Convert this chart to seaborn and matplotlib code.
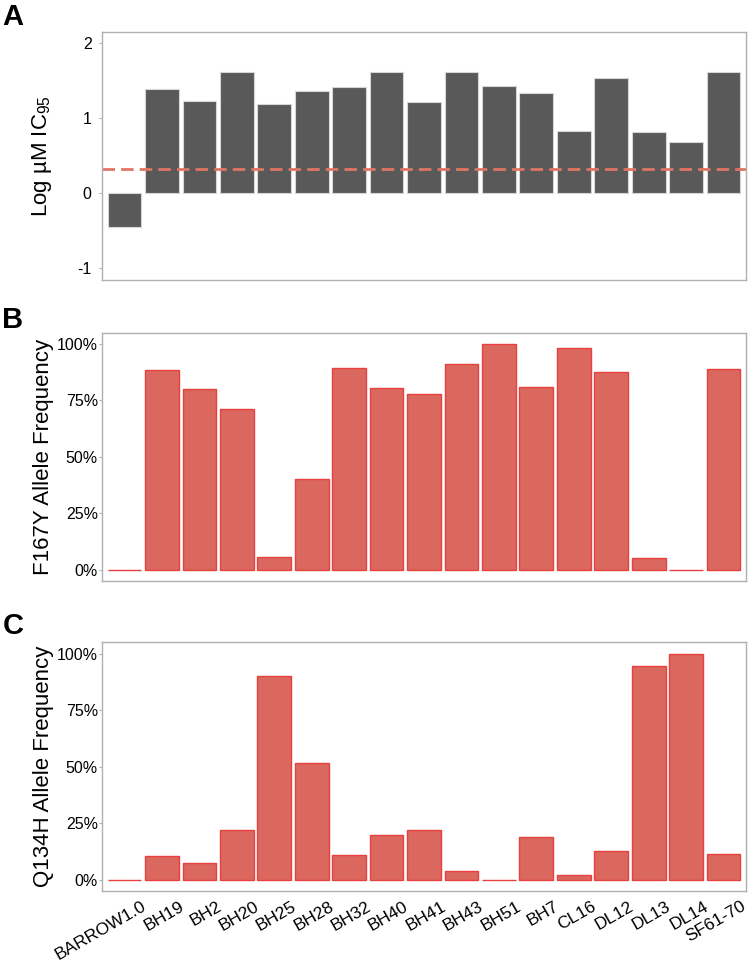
import matplotlib
matplotlib.use("Agg")
import matplotlib.pyplot as plt
import matplotlib.transforms as mtransforms
from matplotlib.ticker import PercentFormatter
import seaborn as sns

# strains on the x axis (same order in all three panels)
strains = ["BARROW1.0", "BH19", "BH2", "BH20", "BH25", "BH28", "BH32", "BH40",
           "BH41", "BH43", "BH51", "BH7", "CL16", "DL12", "DL13", "DL14", "SF61-70"]

# A: log uM IC95
log_ic95 = [-0.45, 1.39, 1.23, 1.61, 1.19, 1.36, 1.42, 1.61,
            1.21, 1.61, 1.435, 1.33, 0.83, 1.54, 0.82, 0.68, 1.61]
ic95_cutoff = 0.32

# B: F167Y allele frequency
f167y_freq = [0.0, 0.885, 0.80, 0.713, 0.057, 0.403, 0.894, 0.804,
              0.779, 0.912, 1.0, 0.81, 0.982, 0.876, 0.054, 0.0, 0.889]

# C: Q134H allele frequency
q134h_freq = [0.0, 0.107, 0.072, 0.22, 0.902, 0.518, 0.109, 0.197,
              0.219, 0.038, 0.0, 0.191, 0.02, 0.126, 0.946, 1.0, 0.115]

sns.set_style("white")
plt.rcParams["font.family"] = ["Liberation Sans", "DejaVu Sans"]
plt.rcParams["mathtext.default"] = "regular"
plt.rcParams["axes.unicode_minus"] = False
plt.rcParams["text.color"] = "black"
plt.rcParams["axes.labelcolor"] = "black"
plt.rcParams["xtick.color"] = "black"
plt.rcParams["ytick.color"] = "black"

GREY_BAR = "#595959"
RED_FILL = "#da685e"
RED_EDGE = "#e8403f"
SPINE = "#b0b0b0"

fig = plt.figure(figsize=(7.5, 9.64), dpi=100)
ax_a = fig.add_axes([0.136, 0.7095, 0.8587, 0.2573])
ax_b = fig.add_axes([0.136, 0.3973, 0.8587, 0.2576])
ax_c = fig.add_axes([0.136, 0.0757, 0.8587, 0.2580])


def style(ax, ypad):
    for s in ax.spines.values():
        s.set_color(SPINE)
        s.set_linewidth(1.0)
    ax.set_xlim(-0.6, 16.6)
    ax.set_xlabel("")
    ax.tick_params(axis="y", left=True, length=2.5, width=0.8, color=SPINE,
                   labelsize=11.5, pad=ypad, labelcolor="black")
    ax.yaxis.set_label_coords(-0.0745, 0.5)


# ? Painel A
sns.barplot(x=strains, y=log_ic95, ax=ax_a, color=GREY_BAR, saturation=1,
            edgecolor="#d6d6d6", linewidth=0.8, width=0.9, errorbar=None)
ax_a.axhline(ic95_cutoff, color="#e07565", lw=2, ls=(0, (4.5, 2.2)))
ax_a.set_ylim(-1.16, 2.15)
ax_a.set_yticks([-1, 0, 1, 2])
ax_a.set_xticks(range(len(strains)))
ax_a.set_xticklabels([])
ax_a.tick_params(axis="x", length=0)
style(ax_a, 5)
ax_a.set_ylabel("Log µM IC$_{95}$", fontsize=16, color="black")

# ? Paineis B e C
for ax, freq, label in [(ax_b, f167y_freq, "F167Y Allele Frequency"),
                        (ax_c, q134h_freq, "Q134H Allele Frequency")]:
    sns.barplot(x=strains, y=freq, ax=ax, color=RED_FILL, saturation=1,
                edgecolor=RED_EDGE, linewidth=1.0, width=0.9, errorbar=None)
    ax.set_ylim(-0.05, 1.05)
    ax.set_yticks([0, 0.25, 0.5, 0.75, 1.0])
    ax.yaxis.set_major_formatter(PercentFormatter(1.0, decimals=0))
    style(ax, 0.5)
    ax.set_ylabel(label, fontsize=16, color="black")

ax_b.set_xticks(range(len(strains)))
ax_b.set_xticklabels([])
ax_b.tick_params(axis="x", length=0)

ax_c.set_xticks(range(len(strains)))
ax_c.set_xticklabels(strains, rotation=30, ha="right", va="top",
                     rotation_mode="anchor", fontsize=12.5, color="black")
ax_c.tick_params(axis="x", length=0, pad=5.5)
shift = mtransforms.ScaledTranslation(0.17, 0, fig.dpi_scale_trans)
for lab in ax_c.get_xticklabels():
    lab.set_transform(lab.get_transform() + shift)

# letras dos paineis
for letter, ytop in [("A", 0.997), ("B", 0.683), ("C", 0.365)]:
    fig.text(0.003, ytop, letter, fontsize=21, fontweight="bold",
             ha="left", va="top", color="black")

fig.savefig("out.png", dpi=100)
